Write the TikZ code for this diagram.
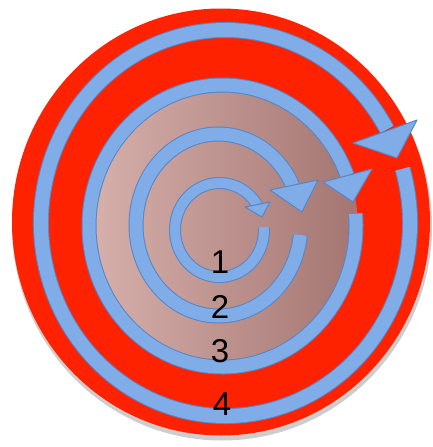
\documentclass[tikz,border=0pt]{standalone}
\usepackage{fontspec}
\setmainfont{Liberation Sans}
\usetikzlibrary{calc}
\definecolor{bgred}{RGB}{255,34,0}
\definecolor{ringblue}{RGB}{128,172,232}
\definecolor{ringdark}{RGB}{84,134,200}
\definecolor{pinkL}{RGB}{214,176,171}
\definecolor{pinkR}{RGB}{164,117,113}
\definecolor{shadowgray}{RGB}{205,205,205}
\tikzset{
  ringout/.style={draw=ringdark, line width=#1},
  ringin/.style={draw=ringblue, line width=#1},
  headtri/.style={draw=ringdark, fill=ringblue, line width=1pt, line join=round},
  numlabel/.style={font=\fontsize{33}{33}\selectfont, text=black, inner sep=0pt, anchor=base}
}
\newcommand\ringarc[7]{%
  \draw[ringout=#7+2pt] ($(#1)+(#4:#2 and #3)$) arc[start angle=#4, end angle=#5, x radius=#2, y radius=#3];
  \draw[ringin=#7] ($(#1)+(#4:#2 and #3)$) arc[start angle=#4, end angle=#5, x radius=#2, y radius=#3];
  #6}
\begin{document}
\begin{tikzpicture}[x=1pt,y=-1pt]
\useasboundingbox (0,0) rectangle (433,447);
\fill[white] (0,0) rectangle (433,447);
% discs
\coordinate (cred) at (221,222);
\coordinate (cpink) at (225,227);
\fill[shadowgray] ($(cred)+(1,4)$) ellipse[x radius=210, y radius=214.5];
\fill[bgred] (cred) ellipse[x radius=209, y radius=213.5];
\shade[left color=pinkL, right color=pinkR] (cpink) ellipse[x radius=133, y radius=139];
% ring centres
\coordinate (c4) at (225.5,223);
\coordinate (c3) at (222.5,226);
\coordinate (c2) at (218.4,225);
\coordinate (c1) at (219.5,230);
% ring 4
\ringarc{c4}{184.5}{193}{-16.3}{331}{}{14pt}
\draw[headtri] (353,143) -- (417,120) -- (397,158) -- cycle;
% ring 3
\ringarc{c3}{133.5}{141}{-5}{339}{}{13pt}
\draw[headtri] (323,182) -- (372,169) -- (353,202) -- cycle;
% ring 2
\ringarc{c2}{82.4}{91}{6.3}{334.4}{}{13pt}
\draw[headtri] (270,190) -- (318,180) -- (302,212) -- cycle;
% ring 1
\ringarc{c1}{44.5}{47}{-3.7}{327.6}{}{10pt}
\draw[headtri] (245,207) -- (270,202) -- (262,217) -- cycle;
% labels
\node[numlabel] (n1) at (220,273) {1};
\node[numlabel] (n2) at (220,318) {2};
\node[numlabel] (n3) at (220,362) {3};
\node[numlabel] (n4) at (222,415) {4};
\end{tikzpicture}
\end{document}
